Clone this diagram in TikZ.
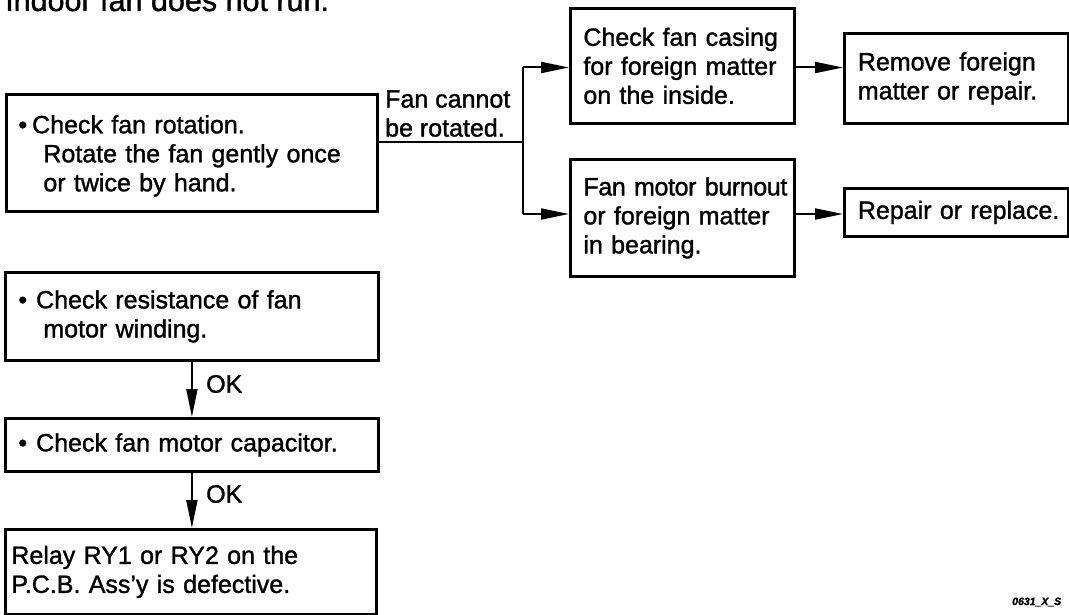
\documentclass[tikz,border=0pt]{standalone}
\usepackage{fontspec}
\setmainfont{Liberation Sans}[FakeBold=1.3]
\usetikzlibrary{arrows.meta}
\begin{document}
\begin{tikzpicture}[x=1pt,y=-1pt,
  box/.style={draw, line width=2.8pt, inner xsep=0pt, inner ysep=0pt, align=left, anchor=north west, font=\fontsize{25}{29}\selectfont},
  conn/.style={line width=2pt},
  arr/.style={conn, -{Triangle[length=28pt,width=11pt]}},
  lbl/.style={inner sep=0pt, align=left, font=\fontsize{25}{29}\selectfont}]
\useasboundingbox (0,0) rectangle (1069,615);
\node[anchor=base west, inner sep=0pt, font=\fontsize{30.5}{34}\selectfont] (title) at (5,11) {Indoor fan does not run.};

\node[box, text width=371pt, minimum height=117pt] (b1) at (5,93)
  {\rule{0pt}{24pt}\hspace*{12pt}\textbullet\hspace{5pt}Check fan rotation.\\
   \hspace*{37pt}Rotate the fan gently once\\
   \hspace*{37pt}or twice by hand.};
\node[box, text width=224pt, minimum height=115pt] (b2) at (569,7)
  {\hspace*{13pt}Check fan casing\\
   \hspace*{13pt}for foreign matter\\
   \hspace*{13pt}on the inside.};
\node[box, text width=224pt, minimum height=117pt] (b3) at (569,158)
  {\hspace*{13pt}{\addfontfeature{LetterSpace=-1.5}Fan motor burnout}\\
   \hspace*{13pt}or foreign matter\\
   \hspace*{13pt}in bearing.};
\node[box, text width=224pt, minimum height=90pt] (b4) at (843,32)
  {\hspace*{13.5pt}Remove foreign\\
   \hspace*{13.5pt}matter or repair.};
\node[box, text width=224pt, minimum height=48pt] (b5) at (843,187)
  {\hspace*{13.5pt}Repair or replace.};
\node[box, text width=373pt, minimum height=88pt] (b6) at (4,271)
  {\hspace*{13pt}\textbullet\hspace{9pt}Check resistance of fan\\
   \hspace*{38pt}motor winding.};
\node[box, text width=373pt, minimum height=53pt] (b7) at (4,417)
  {\hspace*{13pt}\textbullet\hspace{9pt}Check fan motor capacitor.};
\node[box, text width=371pt, minimum height=85pt] (b8) at (4,528)
  {\hspace*{6pt}Relay RY1 or RY2 on the\\
   \hspace*{6pt}P.C.B. Ass'y is defective.};

\node[lbl, anchor=south west] (cannot) at (385,137) {Fan cannot\\be rotated.};
\node[lbl, anchor=west] (ok1) at (206,384) {OK};
\node[lbl, anchor=west] (ok2) at (206,494) {OK};
\node[inner sep=0pt, anchor=base west, font=\fontsize{10.5}{12}\selectfont\bfseries\itshape] (code) at (1012,605) {0631\_X\_S};

\coordinate (split) at (523,142);
\coordinate (jt) at (523,67.5);
\coordinate (jb) at (523,214);
\draw[conn] (b1.east |- split) -- (split);
\draw[conn] (jt) -- (jb);
\draw[arr] (jt) -- (b2.west |- jt);
\draw[arr] (jb) -- (b3.west |- jb);
\draw[arr] (b2.east |- jt) -- (b4.west |- jt);
\draw[arr] (b3.east |- jb) -- (b5.west |- jb);
\draw[arr] (b6.south) -- (b7.north);
\draw[arr] (b7.south) -- (b8.north -| b7.south);
\end{tikzpicture}
\end{document}
